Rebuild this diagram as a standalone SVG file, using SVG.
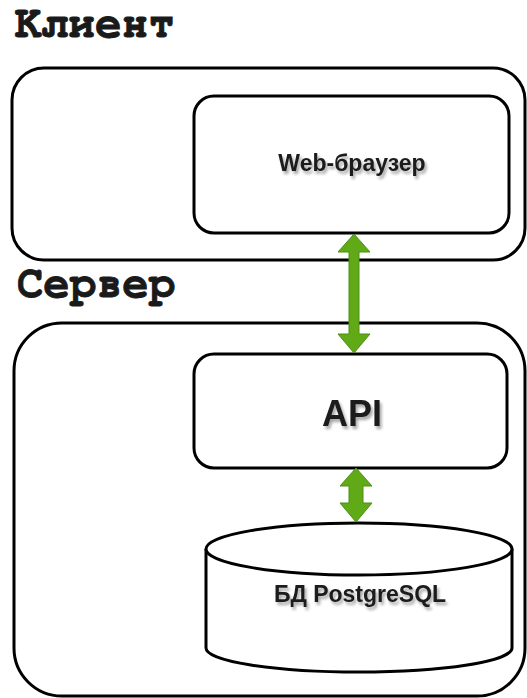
<svg xmlns="http://www.w3.org/2000/svg" width="527" height="698" viewBox="0 0 527 698">
  <defs>
    <filter id="tshadow" x="-20%" y="-40%" width="140%" height="180%">
      <feGaussianBlur in="SourceAlpha" stdDeviation="1.5"/>
      <feOffset dx="2" dy="3" result="b"/>
      <feComponentTransfer><feFuncA type="linear" slope="0.35"/></feComponentTransfer>
      <feMerge><feMergeNode/><feMergeNode in="SourceGraphic"/></feMerge>
    </filter>
  </defs>
  <style>
    .frame { fill: #ffffff; stroke: #000000; stroke-width: 3; }
    .box { fill: #ffffff; stroke: #000000; stroke-width: 3; }
    .title { font-family: "Nimbus Mono PS", "FreeMono", "Courier New", "Liberation Mono", monospace; font-weight: bold; font-size: 46px; fill: #1a1a1a; stroke: #1a1a1a; stroke-width: 0.9; }
    .label { font-family: "Liberation Sans", Arial, sans-serif; font-weight: bold; fill: #1a1a1a; text-anchor: middle; filter: url(#tshadow); }
    .arrow { fill: #60a917; stroke: #4f8f12; stroke-width: 1; }
  </style>
  <rect width="527" height="698" fill="#ffffff"/>

  <g id="client-frame">
    <rect class="frame" x="12" y="68" width="513" height="192" rx="32" ry="32"/>
    <text class="title" x="15" y="37" textLength="160" lengthAdjust="spacingAndGlyphs">Клиент</text>
  </g>

  <g id="server-frame">
    <rect class="frame" x="14" y="323" width="511" height="373" rx="48" ry="48"/>
    <text class="title" x="17" y="297" textLength="158" lengthAdjust="spacingAndGlyphs">Сервер</text>
  </g>

  <g id="web-browser">
    <rect class="box" x="194" y="96" width="315" height="137" rx="20" ry="20"/>
    <text class="label" x="352" y="171" font-size="23">Web-браузер</text>
  </g>

  <g id="api">
    <rect class="box" x="194" y="354" width="313" height="114" rx="20" ry="20"/>
    <text class="label" x="352" y="426" font-size="36">API</text>
  </g>

  <g id="db">
    <path class="box" d="M206,549 L206,648 A153,24 0 0 0 512,648 L512,549 A153,26 0 0 0 206,549 Z"/>
    <path class="box" fill="none" d="M206,549 A153,26 0 0 0 512,549"/>
    <text class="label" x="360" y="602" font-size="23">БД PostgreSQL</text>
  </g>

  <g id="connectors">
    <polygon class="arrow" points="354,234 370,252 359,252 359,334 370,334 354,353 338,334 349,334 349,252 338,252"/>
    <polygon class="arrow" points="356,468 372,486 363,486 363,503 372,503 356,522 340,503 349,503 349,486 340,486"/>
  </g>
</svg>
